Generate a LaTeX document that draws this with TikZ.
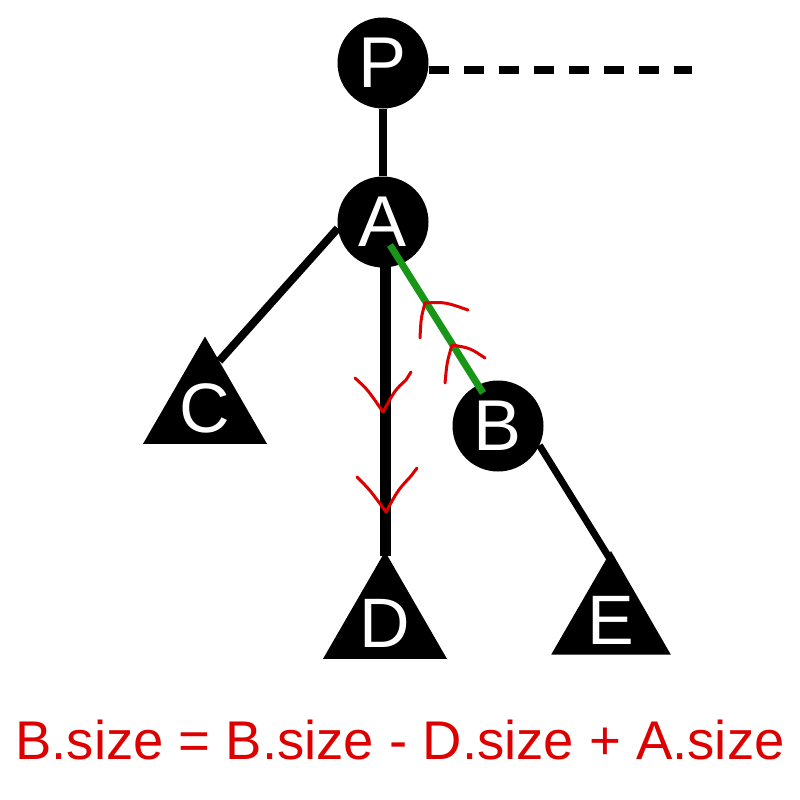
\documentclass[tikz,border=0pt]{standalone}
\usepackage{fontspec}
\setmainfont{Liberation Sans}
\usetikzlibrary{shapes.geometric,calc,backgrounds}
\definecolor{markred}{RGB}{221,0,0}
\definecolor{pathgreen}{RGB}{24,150,24}
\tikzset{
  line cap=butt,
}

\begin{document}
\begin{tikzpicture}[
  x=1pt,y=-1pt,
  vert/.style={circle, fill=black, minimum size=91pt, inner sep=0pt, text=white, font=\fontsize{72}{72}\selectfont},
  subtree/.style={regular polygon, regular polygon sides=3, fill=black, minimum size=138pt, inner sep=0pt, text=white, font=\fontsize{70}{70}\selectfont},
  edge/.style={draw=black, line width=8pt},
  hl/.style={draw=pathgreen, line width=7pt},
  chev/.style={draw=markred, line width=3pt, line cap=round, line join=round},
]
\useasboundingbox (0,0) rectangle (800,800);

\node[vert] (P) at (383,63) {P};
\node[vert] (A) at (383,222) {A};
\node[vert] (B) at (498,426) {B};

\node[subtree] (C) at (205,408) {C};
\node[subtree] (D) at (385,623) {D};
\node[subtree] (E) at (611,620) {E};

\coordinate (Pend) at (692,70);

% tree edges behind the nodes
\begin{scope}[on background layer]
\draw[edge] (P) -- (A);
\draw[edge] (A.188) -- ($(C.corner 1)!0.23!(C.corner 3)$);
\draw[edge, line width=11pt] ([xshift=2pt]A.center) -- ([yshift=-5pt]D.corner 1);
\draw[edge, line width=7pt] (B.-25) -- ([yshift=-10pt]E.corner 1);
\end{scope}

\draw[edge, dash pattern=on 20pt off 15pt] ([yshift=-7pt]P.east) -- (Pend);

% the rotated edge
\draw[hl] ([shift={(7pt,-23pt)}]A.center) -- ([shift={(-15pt,33pt)}]B.center);

% direction marks
\draw[chev] (355,378) .. controls (368,390) .. (383,412) .. controls (395,390) .. (406,380) -- (411,372);
\draw[chev] (357,477) .. controls (370,490) .. (386,512) .. controls (398,490) .. (411,476) -- (417,468);
\draw[chev] (420,338) .. controls (421,318) .. (425,303) .. controls (445,302) .. (468,310);
\draw[chev] (445,383) .. controls (447,362) .. (452,345) .. controls (470,348) .. (485,358);

\node[text=markred, font=\fontsize{54.5}{54.5}\selectfont] (formula) at (400,740) {B.size = B.size - D.size + A.size};
\end{tikzpicture}
\end{document}
